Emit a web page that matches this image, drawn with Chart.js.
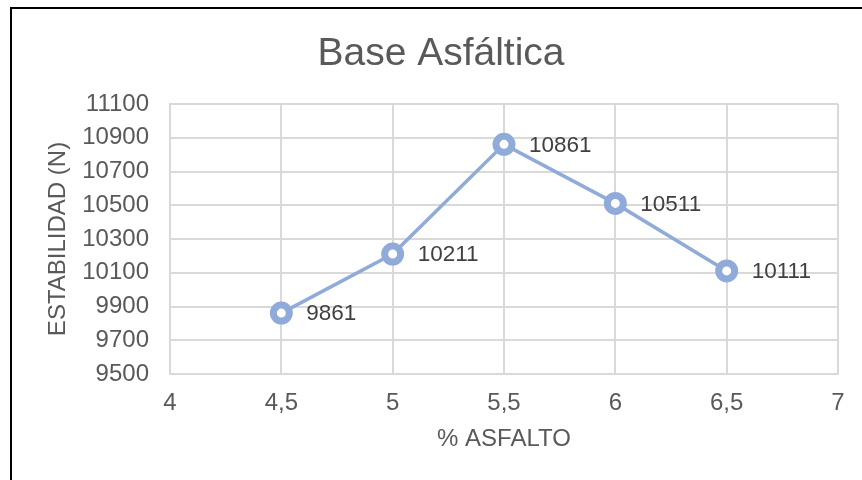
<!DOCTYPE html>
<html>
<head>
<meta charset="utf-8">
<script src="https://cdn.jsdelivr.net/npm/chart.js@4"></script>
<style>
  html, body { margin:0; padding:0; background:#fff; overflow:hidden; width:862px; height:480px; }
  canvas { display:block; }
</style>
</head>
<body>
<!-- canvas a bit wider than the window: the chart frame runs off the right edge like the original -->
<canvas id="chart" width="884" height="480"></canvas>
<script>
// data
const asfalto = [4.5, 5, 5.5, 6, 6.5];
const estabilidad = [9861, 10211, 10861, 10511, 10111];
const xTickLabels = ['4', '4,5', '5', '5,5', '6', '6,5', '7'];
const yTickLabels = ['9500', '9700', '9900', '10100', '10300', '10500', '10700', '10900', '11100'];

const FONT = "'Liberation Sans', Arial, sans-serif";
Chart.defaults.font.family = FONT;

const blue = '#90abda';
const grey = '#595959';

// white background + black frame (the frame runs off the right/bottom edge)
const frame = {
    id: 'frame',
    beforeDraw(chart){
        const c = chart.ctx;
        c.save();
        c.fillStyle = '#fff';
        c.fillRect(0, 0, chart.width, chart.height);
        c.strokeStyle = '#000';
        c.lineWidth = 2;
        c.strokeRect(11, 8, 1000, 700);
        c.restore();
    }
};

// value labels right of each point
const valueLabels = {
    id: 'valueLabels',
    afterDatasetsDraw(chart){
        const c = chart.ctx;
        const meta = chart.getDatasetMeta(0);
        c.save();
        c.font = '22.5px ' + FONT;
        c.fillStyle = '#404040';
        c.textAlign = 'left';
        c.textBaseline = 'middle';
        meta.data.forEach((pt, i) => {
            c.fillText(String(estabilidad[i]), pt.x + 25, pt.y + 1);
        });
        c.restore();
    }
};

const ctx = document.getElementById('chart').getContext('2d');
new Chart(ctx, {
    type: 'scatter',
    data: {
        datasets: [{
            data: asfalto.map((x, i) => ({ x: x, y: estabilidad[i] })),
            showLine: true,
            borderColor: blue,
            borderWidth: 3.5,
            pointRadius: 8,
            pointHoverRadius: 8,
            pointBorderWidth: 7,
            pointBackgroundColor: '#fff',
            pointBorderColor: blue
        }]
    },
    options: {
        responsive: false,
        animation: false,
        // left/right padding chosen so the title is centred at x≈442 like the original
        layout: { padding: { left: 44, right: 46, top: 0, bottom: 0 } },
        plugins: {
            legend: { display: false },
            tooltip: { enabled: false },
            title: {
                display: true,
                text: 'Base Asfáltica',
                color: grey,
                font: { size: 39, weight: 'normal', lineHeight: 1.2 },
                padding: { top: 30.5, bottom: 26.7 }
            }
        },
        scales: {
            x: {
                type: 'linear',
                min: 4, max: 7,
                ticks: {
                    stepSize: 0.5,
                    color: grey,
                    font: { size: 24 },
                    padding: 15,
                    maxRotation: 0,
                    callback: (v, i) => xTickLabels[i]
                },
                grid: { color: '#d9d9d9', lineWidth: 2, drawTicks: false },
                border: { color: '#d9d9d9', width: 2 },
                title: {
                    display: true,
                    text: '% ASFALTO',
                    color: grey,
                    font: { size: 24, lineHeight: 1.2 },
                    padding: { top: 0, bottom: 26.6 }
                },
                afterFit(scale){
                    scale.height = 106;
                    scale.paddingLeft = 0;
                    scale.paddingRight = 0;
                }
            },
            y: {
                min: 9500, max: 11100,
                ticks: {
                    stepSize: 200,
                    color: grey,
                    font: { size: 24 },
                    padding: 21,
                    callback: (v, i) => yTickLabels[i]
                },
                grid: { color: '#d9d9d9', lineWidth: 2, drawTicks: false },
                border: { color: '#d9d9d9', width: 2 },
                title: {
                    display: true,
                    text: 'ESTABILIDAD (N)',
                    color: grey,
                    font: { size: 24, lineHeight: 1.2 },
                    padding: { top: 0, bottom: 0 }
                },
                afterFit(scale){
                    scale.width = 126;
                    scale.paddingTop = 0;
                    scale.paddingBottom = 0;
                }
            }
        }
    },
    plugins: [frame, valueLabels]
});
</script>
</body>
</html>
